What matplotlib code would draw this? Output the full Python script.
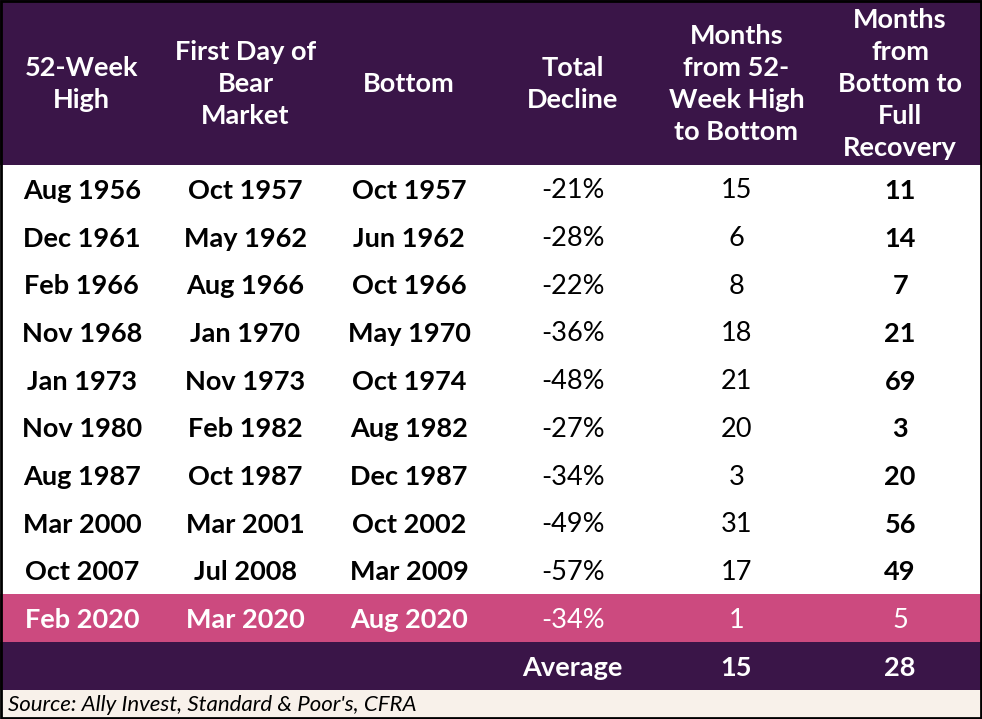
import matplotlib
matplotlib.use("Agg")
import matplotlib.pyplot as plt
from matplotlib.patches import Rectangle

plt.rcParams['font.family'] = ['Lato', 'DejaVu Sans']

headers = ["52-Week\nHigh", "First Day of\nBear\nMarket", "Bottom",
           "Total\nDecline", "Months\nfrom 52-\nWeek High\nto Bottom",
           "Months\nfrom\nBottom to\nFull\nRecovery"]
week_high = ["Aug 1956", "Dec 1961", "Feb 1966", "Nov 1968", "Jan 1973",
             "Nov 1980", "Aug 1987", "Mar 2000", "Oct 2007", "Feb 2020"]
first_day = ["Oct 1957", "May 1962", "Aug 1966", "Jan 1970", "Nov 1973",
             "Feb 1982", "Oct 1987", "Mar 2001", "Jul 2008", "Mar 2020"]
bottom = ["Oct 1957", "Jun 1962", "Oct 1966", "May 1970", "Oct 1974",
          "Aug 1982", "Dec 1987", "Oct 2002", "Mar 2009", "Aug 2020"]
decline = [-21, -28, -22, -36, -48, -27, -34, -49, -57, -34]
months_to_bottom = [15, 6, 8, 18, 21, 20, 3, 31, 17, 1]
months_to_recovery = [11, 14, 7, 21, 69, 3, 20, 56, 49, 5]
average = ["Average", "15", "28"]
source = "Source: Ally Invest, Standard & Poor's, CFRA"

purple = "#3a1548"
pink = "#cc4a7f"
cream = "#f8f1ea"

W, H = 982, 719
header_h = 165
row_h = 47.7
ncol = len(headers)
col_w = W / ncol
fs = 19.5

fig = plt.figure(figsize=(W / 100, H / 100), dpi=100)
ax = fig.add_axes([0, 0, 1, 1])
ax.set_xlim(0, W)
ax.set_ylim(H, 0)
ax.axis('off')

def xc(i):
    return (i + 0.5) * col_w

def yc(r):
    return header_h + (r + 0.5) * row_h + 2

# header
ax.add_patch(Rectangle((0, 0), W, header_h, color=purple, lw=0))
for i, h in enumerate(headers):
    ax.text(xc(i), header_h / 2 + 2, h, ha='center', va='center', color='white',
            fontsize=fs, fontweight='bold', linespacing=1.4)

# body rows
nrows = len(week_high)
for r in range(nrows):
    last = r == nrows - 1
    if last:
        ax.add_patch(Rectangle((0, header_h + r * row_h), W, row_h, color=pink, lw=0))
    color = 'white' if last else 'black'
    cells = [week_high[r], first_day[r], bottom[r], f"{decline[r]}%",
             str(months_to_bottom[r]), str(months_to_recovery[r])]
    weights = ['bold', 'bold', 'bold', 'normal', 'normal', 'normal' if last else 'bold']
    for i, (txt, wt) in enumerate(zip(cells, weights)):
        ax.text(xc(i), yc(r), txt, ha='center', va='center', color=color,
                fontsize=fs, fontweight=wt)

# average row
y_avg = header_h + nrows * row_h
ax.add_patch(Rectangle((0, y_avg), W, row_h, color=purple, lw=0))
for i, txt in enumerate(average):
    ax.text(xc(i + 3), y_avg + row_h / 2 + 2, txt, ha='center', va='center',
            color='white', fontsize=fs, fontweight='bold')

# source
y_src = y_avg + row_h
ax.add_patch(Rectangle((0, y_src), W, H - y_src, color=cream, lw=0))
ax.text(8, (y_src + H) / 2 + 1, source, ha='left', va='center', color='black',
        fontsize=16, fontstyle='italic')

# outer border
ax.add_patch(Rectangle((1, 1), W - 2, H - 2, fill=False, ec='black', lw=2))

fig.savefig("out.png", dpi=100)
